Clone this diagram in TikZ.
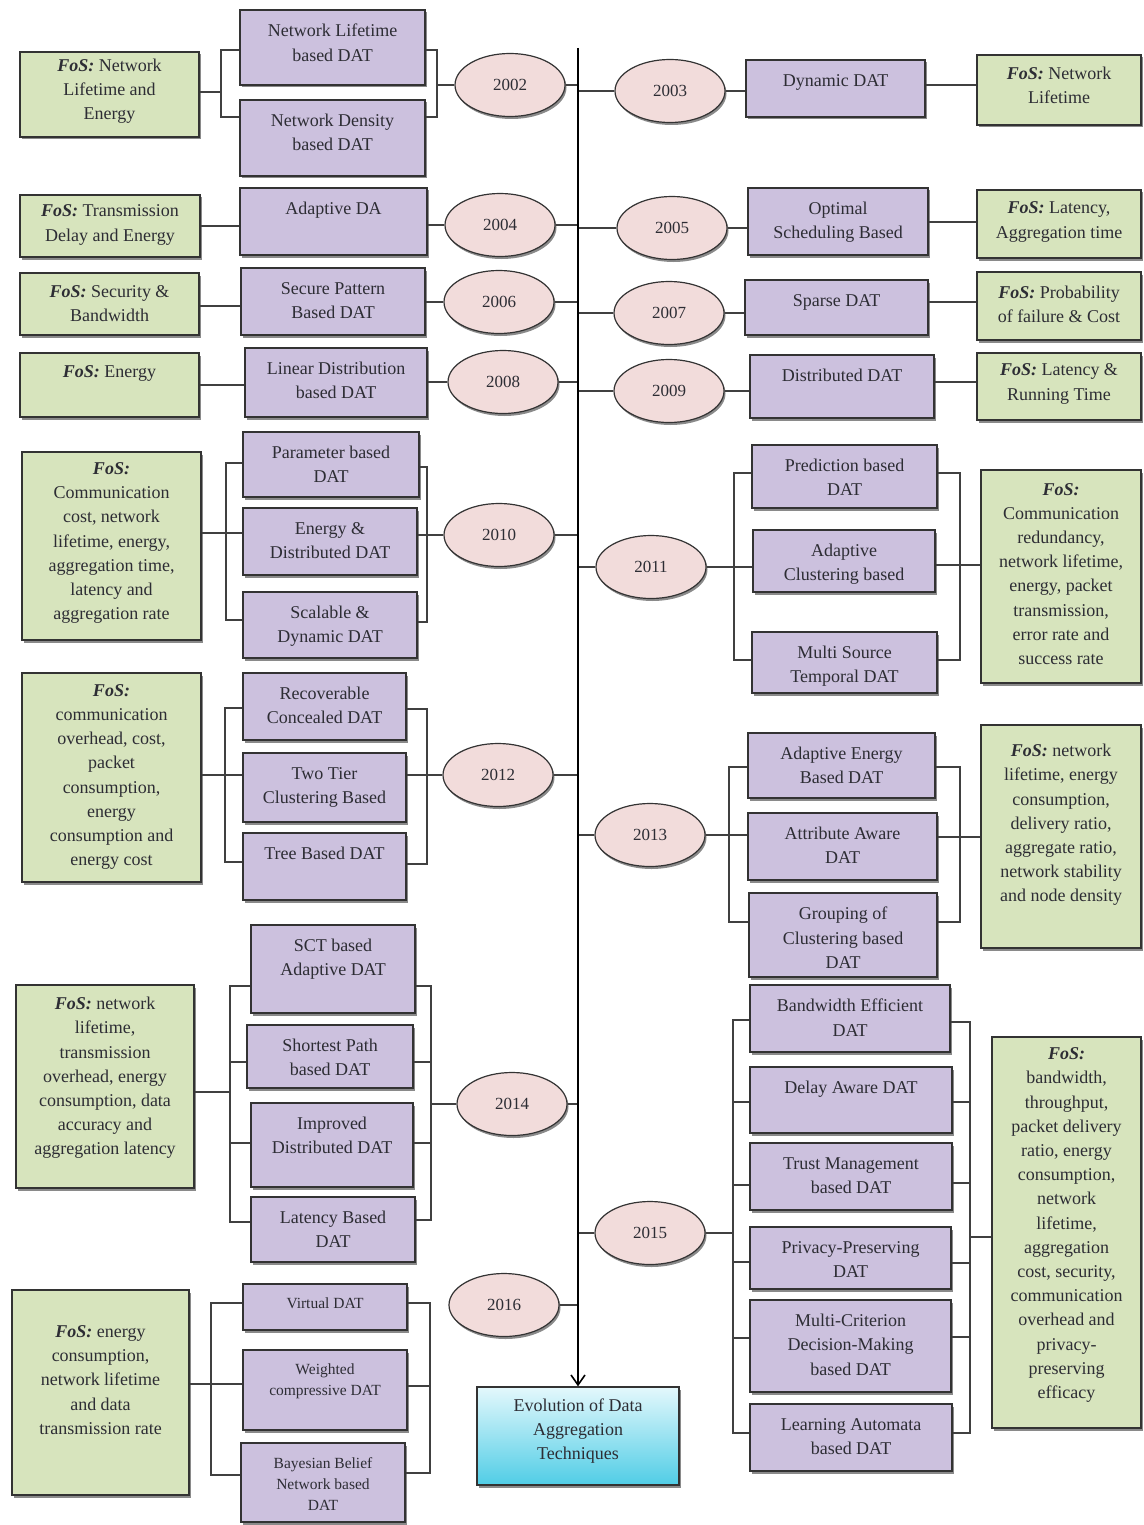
\documentclass[tikz,border=0pt]{standalone}
\usepackage{fontspec}
\setmainfont{Liberation Serif}
\usetikzlibrary{shapes.geometric,shadows,arrows.meta}

\definecolor{purp}{RGB}{204,193,222}
\definecolor{grn}{RGB}{215,228,189}
\definecolor{pnk}{RGB}{242,220,219}
\definecolor{ink}{RGB}{45,45,52}
\definecolor{cyanlo}{RGB}{80,205,230}
\definecolor{cyanhi}{RGB}{228,248,252}

\newcommand\fos{\textbf{\textit{FoS:}}}
\newcommand\fbig{\fontsize{18}{24.2}\selectfont}
\newcommand\fsmall{\fontsize{15.5}{21}\selectfont}
\newcommand\fyear{\fontsize{17}{20}\selectfont}

\tikzset{
  boxshadow/.style={drop shadow={shadow xshift=1.5pt,shadow yshift=-2.5pt,opacity=.65,fill=black!70}},
  pbox/.style={rectangle, draw=black!80, line width=1.3pt, fill=purp, inner sep=0pt, boxshadow},
  gbox/.style={rectangle, draw=black!80, line width=1.3pt, fill=grn, inner sep=0pt, boxshadow},
  btext/.style={inner sep=0pt, align=center, text=ink},
  yearnode/.style={ellipse, draw=black!80, line width=1.2pt, fill=pnk, minimum width=110pt,
    minimum height=63pt, inner sep=0pt, font=\fyear, text=ink, boxshadow},
  conn/.style={draw=black!75, line width=1.4pt},
  spine/.style={draw=black, line width=1.6pt, -{Straight Barb[length=10pt,width=14pt]}},
}

% purple technique box: [font]{name}{x1}{y1}{x2}{y2}{text}, text hangs from the top
\newcommand\pb[7][\fbig]{%
  \node[pbox, minimum width={#5-#3}, minimum height={#6-#4}] (#2) at ({(#3+#5)/2},{(#4+#6)/2}) {};
  \node[btext, font=#1, anchor=north] (#2-t) at ({(#3+#5)/2},{#4+14}) {#7};}
% green factor box: {name}{x1}{y1}{x2}{y2}{text centre y}{text}
\newcommand\gb[7]{%
  \node[gbox, minimum width={#4-#2}, minimum height={#5-#3}] (#1) at ({(#2+#4)/2},{(#3+#5)/2}) {};
  \node[btext, font=\fbig] (#1-t) at ({(#2+#4)/2},#6) {#7};}

\begin{document}
\begin{tikzpicture}[x=1pt,y=-1pt]
\fill[white] (0,0) rectangle (1143,1525);
\useasboundingbox (0,0) rectangle (1143,1525);
\coordinate (spineTop) at (578,48);

% ---------------- 2002
\gb{g02}{20}{52}{199}{137}{91}{\fos{} Network\\Lifetime and\\Energy}
\pb{p02a}{240}{10}{425}{85}{Network Lifetime\\based DAT}
\pb{p02b}{240}{100}{425}{176}{Network Density\\based DAT}
\node[yearnode] (e02) at (510,85) {2002};
\draw[conn] (g02.east |- 0,92) -- (221,92);
\draw[conn] (p02a.west |- 0,50) -| (221,117) -- (p02b.west |- 0,117);
\draw[conn] (p02a.east |- 0,50) -| (437,117) -- (p02b.east |- 0,117);
\draw[conn] (437,85) -- (e02.west);
\draw[conn] (e02.east) -- (e02.east -| spineTop);

% ---------------- 2003
\node[yearnode] (e03) at (670,91) {2003};
\pb{p03}{746}{60}{925}{117}{Dynamic DAT}
\gb{g03}{977}{55}{1141}{125}{85}{\fos{} Network\\Lifetime}
\draw[conn] (e03.west -| spineTop) -- (e03.west);
\draw[conn] (e03.east) -- (e03.east -| p03.west);
\draw[conn] (p03.east |- 0,85) -- (g03.west |- 0,85);

% ---------------- 2004
\gb{g04}{20}{195}{200}{257}{225}{\fos{} Transmission\\Delay and Energy}
\pb{p04}{240}{188}{427}{255}{Adaptive DA}
\node[yearnode] (e04) at (500,225) {2004};
\draw[conn] (g04.east |- 0,226) -- (p04.west |- 0,226);
\draw[conn] (p04.east |- e04) -- (e04.west);
\draw[conn] (e04.east) -- (e04.east -| spineTop);

% ---------------- 2005
\node[yearnode] (e05) at (672,228) {2005};
\pb{p05}{748}{188}{928}{255}{Optimal\\Scheduling Based}
\gb{g05}{977}{190}{1141}{258}{222}{\fos{} Latency,\\Aggregation time}
\draw[conn] (e05.west -| spineTop) -- (e05.west);
\draw[conn] (e05.east) -- (e05.east -| p05.west);
\draw[conn] (p05.east |- 0,222) -- (g05.west |- 0,222);

% ---------------- 2006
\gb{g06}{20}{273}{199}{335}{304}{\fos{} Security \&\\Bandwidth}
\pb{p06}{241}{268}{425}{335}{Secure Pattern\\Based DAT}
\node[yearnode] (e06) at (499,302) {2006};
\draw[conn] (g06.east |- 0,306) -- (p06.west |- 0,306);
\draw[conn] (p06.east |- e06) -- (e06.west);
\draw[conn] (e06.east) -- (e06.east -| spineTop);

% ---------------- 2007
\node[yearnode] (e07) at (669,313) {2007};
\pb{p07}{745}{280}{928}{335}{Sparse DAT}
\gb{g07}{977}{272}{1141}{340}{304}{\fos{} Probability\\of failure \& Cost}
\draw[conn] (e07.west -| spineTop) -- (e07.west);
\draw[conn] (e07.east) -- (e07.east -| p07.west);
\draw[conn] (p07.east |- 0,302) -- (g07.west |- 0,302);

% ---------------- 2008
\gb{g08}{20}{353}{199}{417}{373}{\fos{} Energy}
\pb{p08}{245}{348}{427}{417}{Linear Distribution\\based DAT}
\node[yearnode] (e08) at (503,382) {2008};
\draw[conn] (g08.east |- 0,385) -- (p08.west |- 0,385);
\draw[conn] (p08.east |- e08) -- (e08.west);
\draw[conn] (e08.east) -- (e08.east -| spineTop);

% ---------------- 2009
\node[yearnode] (e09) at (669,391) {2009};
\pb{p09}{750}{355}{934}{418}{Distributed DAT}
\gb{g09}{977}{353}{1141}{420}{384}{\fos{} Latency \&\\Running Time}
\draw[conn] (e09.west -| spineTop) -- (e09.west);
\draw[conn] (e09.east) -- (e09.east -| p09.west);
\draw[conn] (p09.east |- 0,382) -- (g09.west |- 0,382);

% ---------------- 2010
\gb{g10}{22}{452}{201}{640}{543}{\fos\\Communication\\cost, network\\lifetime, energy,\\aggregation time,\\latency and\\aggregation rate}
\pb{p10a}{243}{432}{419}{497}{Parameter based\\DAT}
\pb{p10b}{243}{508}{417}{575}{Energy \&\\Distributed DAT}
\pb{p10c}{243}{592}{417}{658}{Scalable \&\\Dynamic DAT}
\node[yearnode] (e10) at (499,535) {2010};
\draw[conn] (g10.east |- 0,533) -- (p10b.west |- 0,533);
\draw[conn] (p10a.west |- 0,463) -| (226,620) -- (p10c.west |- 0,620);
\draw[conn] (p10a.east |- 0,467) -| (427,622) -- (p10c.east |- 0,622);
\draw[conn] (p10b.east |- e10) -- (e10.west);
\draw[conn] (e10.east) -- (e10.east -| spineTop);

% ---------------- 2011
\node[yearnode] (e11) at (651,567) {2011};
\pb{p11a}{752}{445}{937}{508}{Prediction based\\DAT}
\pb{p11b}{753}{530}{935}{592}{Adaptive\\Clustering based}
\pb{p11c}{752}{632}{937}{693}{Multi Source\\Temporal DAT}
\gb{g11}{981}{470}{1141}{683}{574}{\fos\\Communication\\redundancy,\\network lifetime,\\energy, packet\\transmission,\\error rate and\\success rate}
\draw[conn] (e11.west -| spineTop) -- (e11.west);
\draw[conn] (e11.east) -- (e11.east -| p11b.west);
\draw[conn] (p11a.west |- 0,473) -| (734,660) -- (p11c.west |- 0,660);
\draw[conn] (p11a.east |- 0,473) -| (960,660) -- (p11c.east |- 0,660);
\draw[conn] (p11b.east |- 0,565) -- (g11.west |- 0,565);

% ---------------- 2012
\gb{g12}{22}{673}{201}{882}{777}{\fos\\communication\\overhead, cost,\\packet\\consumption,\\energy\\consumption and\\energy cost}
\pb{p12a}{243}{673}{406}{740}{Recoverable\\Concealed DAT}
\pb{p12b}{243}{753}{406}{822}{Two Tier\\Clustering Based}
\pb{p12c}{243}{833}{406}{900}{Tree Based DAT}
\node[yearnode] (e12) at (498,775) {2012};
\draw[conn] (g12.east |- 0,775) -- (p12b.west |- 0,775);
\draw[conn] (p12a.west |- 0,708) -| (225,862) -- (p12c.west |- 0,862);
\draw[conn] (p12a.east |- 0,709) -| (427,864) -- (p12c.east |- 0,864);
\draw[conn] (p12b.east |- e12) -- (e12.west);
\draw[conn] (e12.east) -- (e12.east -| spineTop);

% ---------------- 2013
\node[yearnode] (e13) at (650,835) {2013};
\pb{p13a}{748}{733}{935}{798}{Adaptive Energy\\Based DAT}
\pb{p13b}{748}{813}{937}{880}{Attribute Aware\\DAT}
\pb{p13c}{749}{893}{937}{977}{Grouping of\\Clustering based\\DAT}
\gb{g13}{981}{725}{1141}{948}{825}{\fos{} network\\lifetime, energy\\consumption,\\delivery ratio,\\aggregate ratio,\\network stability\\and node density}
\draw[conn] (e13.west -| spineTop) -- (e13.west);
\draw[conn] (e13.east) -- (e13.east -| p13b.west);
\draw[conn] (p13a.west |- 0,767) -| (729,922) -- (p13c.west |- 0,922);
\draw[conn] (p13a.east |- 0,767) -| (960,922) -- (p13c.east |- 0,922);
\draw[conn] (p13b.east |- 0,837) -- (g13.west |- 0,837);

% ---------------- 2014
\gb{g14}{16}{985}{194}{1188}{1078}{\fos{} network\\lifetime,\\transmission\\overhead, energy\\consumption, data\\accuracy and\\aggregation latency}
\pb{p14a}{251}{925}{415}{1013}{SCT based\\Adaptive DAT}
\pb{p14b}{247}{1025}{413}{1088}{Shortest Path\\based DAT}
\pb{p14c}{251}{1103}{413}{1187}{Improved\\Distributed DAT}
\pb{p14d}{251}{1197}{415}{1262}{Latency Based\\DAT}
\node[yearnode] (e14) at (512,1104) {2014};
\draw[conn] (g14.east |- 0,1092) -- (230,1092);
\draw[conn] (p14a.west |- 0,986) -| (230,1222) -- (p14d.west |- 0,1222);
\draw[conn] (230,1062) -- (p14b.west |- 0,1062);
\draw[conn] (230,1143) -- (p14c.west |- 0,1143);
\draw[conn] (p14a.east |- 0,986) -| (431,1220) -- (p14d.east |- 0,1220);
\draw[conn] (p14b.east |- 0,1062) -- (431,1062);
\draw[conn] (p14c.east |- 0,1143) -- (431,1143);
\draw[conn] (431,1104) -- (e14.west);
\draw[conn] (e14.east) -- (e14.east -| spineTop);

% ---------------- 2015
\node[yearnode] (e15) at (650,1233) {2015};
\pb{p15a}{750}{985}{950}{1052}{Bandwidth Efficient\\DAT}
\pb{p15b}{750}{1067}{952}{1133}{Delay Aware DAT}
\pb{p15c}{750}{1143}{952}{1210}{Trust Management\\based DAT}
\pb{p15d}{750}{1227}{951}{1289}{Privacy-Preserving\\DAT}
\pb{p15e}{750}{1300}{951}{1392}{Multi-Criterion\\Decision-Making\\based DAT}
\pb{p15f}{750}{1404}{952}{1471}{Learning Automata\\based DAT}
\gb{g15}{992}{1037}{1141}{1428}{1225}{\fos\\bandwidth,\\throughput,\\packet delivery\\ratio, energy\\consumption,\\network\\lifetime,\\aggregation\\cost, security,\\communication\\overhead and\\privacy-\\preserving\\efficacy}
\draw[conn] (e15.west -| spineTop) -- (e15.west);
\draw[conn] (e15.east) -- (733,1233);
\draw[conn] (p15a.west |- 0,1020) -| (733,1433) -- (p15f.west |- 0,1433);
\draw[conn] (733,1102) -- (p15b.west |- 0,1102);
\draw[conn] (733,1185) -- (p15c.west |- 0,1185);
\draw[conn] (733,1262) -- (p15d.west |- 0,1262);
\draw[conn] (733,1338) -- (p15e.west |- 0,1338);
\draw[conn] (p15a.east |- 0,1022) -| (970,1433) -- (p15f.east |- 0,1433);
\draw[conn] (p15b.east |- 0,1102) -- (970,1102);
\draw[conn] (p15c.east |- 0,1183) -- (970,1183);
\draw[conn] (p15d.east |- 0,1263) -- (970,1263);
\draw[conn] (p15e.east |- 0,1337) -- (970,1337);
\draw[conn] (970,1237) -- (g15.west |- 0,1237);

% ---------------- 2016
\gb{g16}{12}{1290}{189}{1495}{1380}{\fos{} energy\\consumption,\\network lifetime\\and data\\transmission rate}
\pb[\fsmall]{p16a}{243}{1284}{407}{1330}{Virtual DAT}
\pb[\fsmall]{p16b}{243}{1350}{407}{1430}{Weighted\\compressive DAT}
\pb[\fsmall]{p16c}{241}{1443}{405}{1522}{Bayesian Belief\\Network based\\DAT}
\node[yearnode] (e16) at (504,1305) {2016};
\draw[conn] (g16.east |- 0,1384) -- (p16b.west |- 0,1384);
\draw[conn] (p16a.west |- 0,1303) -| (211,1475) -- (p16c.west |- 0,1475);
\draw[conn] (p16a.east |- 0,1303) -| (430,1473) -- (p16c.east |- 0,1473);
\draw[conn] (p16b.east |- 0,1386) -- (430,1386);
\draw[conn] (e16.east) -- (e16.east -| spineTop);

% ---------------- timeline and its goal
\node[rectangle, draw=black!80, line width=1.3pt, top color=cyanhi, bottom color=cyanlo,
  minimum width=202, minimum height=98, boxshadow] (ev) at (578,1436) {};
\node[btext, font=\fbig] (ev-t) at (578,1431) {Evolution of Data\\Aggregation\\Techniques};
\draw[spine] (spineTop) -- (ev.north);
\end{tikzpicture}
\end{document}
